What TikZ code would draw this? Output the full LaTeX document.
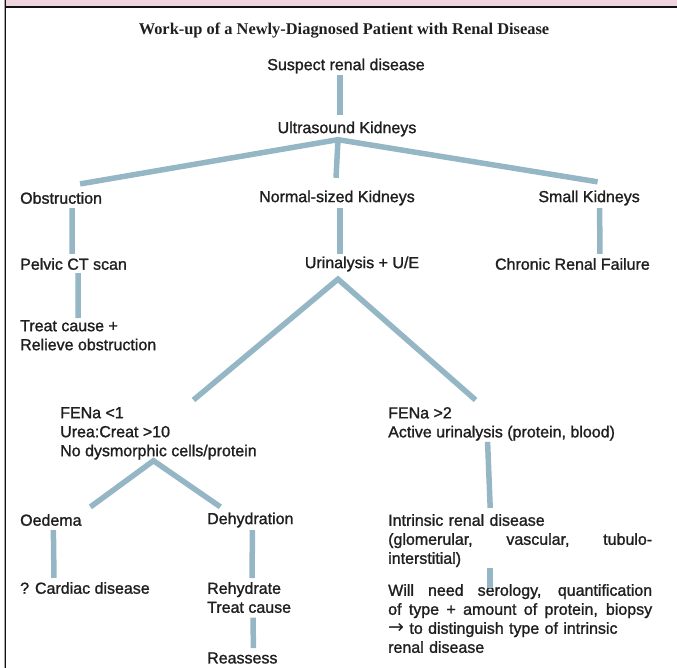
\documentclass[tikz,border=0pt]{standalone}
\usepackage{fontspec}
\setmainfont{Liberation Sans}[FakeBold=1.3]
\newfontfamily\rdserif{Liberation Serif}
\newfontfamily\rdsymbol{DejaVu Sans}
\usetikzlibrary{calc}
\definecolor{rdink}{HTML}{1F1F1F}
\definecolor{rdband}{HTML}{EFD3DE}
\definecolor{rdframe}{HTML}{111111}
\definecolor{rdedge}{HTML}{A8A8A8}
\definecolor{rdbranchcol}{HTML}{95B7C5}
\newcommand{\rdjust}[1]{\leavevmode\hbox to 264pt{\spaceskip=0.28em plus 1fil\xspaceskip=0.28em plus 1fil\relax #1}}
\tikzset{
  rdlabel/.style={
    inner sep=0pt,
    align=left,
    font=\fontsize{16}{19}\selectfont,
    text=rdink
  },
  rdpara/.style={
    rdlabel,
    text width=264pt
  },
  rdtitle/.style={
    inner sep=0pt,
    font=\rdserif\bfseries\fontsize{16.4}{19}\selectfont,
    text=rdink
  },
  rdbranch/.style={
    line width=5.5pt,
    color=rdbranchcol
  },
  rdframe/.style={
    line width=1.4pt,
    color=rdframe
  }
}

\begin{document}
\begin{tikzpicture}[x=1pt,y=-1pt]
  \useasboundingbox (0,0) rectangle (677,668);

  % page frame
  \fill[rdband] (5,0) rectangle (677,6.5);
  \draw[rdframe] (5,7) -- (677,7);
  \draw[line width=1pt, rdedge] (4.2,0) -- (4.2,668);
  \draw[rdframe] (5.7,0) -- (5.7,668);

  \node[rdtitle] (title) at (344,31) {Work-up of a Newly-Diagnosed Patient with Renal Disease};

  \node[rdlabel] (suspect) at (346,66) {Suspect renal disease};
  \node[rdlabel] (ultra) at (347,129) {Ultrasound Kidneys};

  \node[rdlabel, anchor=west] (obstr) at (20,198) {Obstruction};
  \node[rdlabel] (normal) at (337,198) {Normal-sized Kidneys};
  \node[rdlabel, anchor=east] (small) at (640,198) {Small Kidneys};

  \node[rdlabel, anchor=west] (pelvic) at (20,264) {Pelvic CT scan};
  \node[rdlabel] (urin) at (362,264) {Urinalysis + U/E};
  \node[rdlabel, anchor=east] (chronic) at (650,264) {Chronic Renal Failure};

  \node[rdlabel, anchor=north west] (treat) at (20,320) {Treat cause +\\Relieve obstruction};

  \node[rdlabel, anchor=north west] (fenalow) at (60,407) {FENa <1\\Urea:Creat >10\\No dysmorphic cells/protein};
  \node[rdlabel, anchor=north west] (fenahigh) at (388,407) {FENa >2\\Active urinalysis (protein, blood)};

  \node[rdlabel, anchor=west] (oedema) at (20,520) {Oedema};
  \node[rdlabel, anchor=west] (dehyd) at (207,520) {Dehydration};
  \node[rdpara, anchor=north west] (intrinsic) at (388,514) {Intrinsic renal disease\\
    \rdjust{(glomerular, vascular, tubulo-}\\
    interstitial)};

  \node[rdlabel, anchor=west] (cardiac) at (20,588) {? Cardiac disease};
  \node[rdlabel, anchor=north west] (rehyd) at (207,582) {Rehydrate\\Treat cause};
  \node[rdlabel, anchor=west] (reassess) at (207,658) {Reassess};
  \node[rdpara, anchor=north west] (serology) at (388,584) {%
    \rdjust{Will need serology, quantification}\\
    \rdjust{of type + amount of protein, biopsy}\\
    {\rdsymbol\fontsize{19}{19}\selectfont →} to distinguish type of intrinsic\\
    renal disease};

  % branches
  \draw[rdbranch] ([xshift=-6pt,yshift=-1pt]suspect.south) -- ([xshift=-7pt,yshift=6pt]ultra.north);
  \coordinate (ultrafork) at ([xshift=-9pt,yshift=-3pt]ultra.south);
  \draw[rdbranch] ([xshift=19pt,yshift=8pt]obstr.north) -- (ultrafork) -- ([xshift=8.5pt,yshift=8.5pt]small.north);
  \draw[rdbranch] (ultrafork) -- ([xshift=-1pt,yshift=12.5pt]normal.north);

  \draw[rdbranch] ([xshift=11pt,yshift=-4pt]obstr.south) -- ([xshift=-1.5pt,yshift=4pt]pelvic.north);
  \draw[rdbranch] ([xshift=4.5pt,yshift=-3pt]pelvic.south) -- ([xshift=-10pt,yshift=2pt]treat.north);
  \draw[rdbranch] ([xshift=3pt,yshift=-2.5pt]normal.south) -- ([xshift=-22pt,yshift=2.5pt]urin.north);
  \draw[rdbranch] ([xshift=10.5pt,yshift=-2.5pt]small.south) -- ([xshift=27.5pt,yshift=4pt]chronic.north);

  \coordinate (urinfork) at ([xshift=-24pt,yshift=-7.5pt]urin.south);
  \draw[rdbranch] ([xshift=35pt,yshift=7pt]fenalow.north) -- (urinfork) -- ([xshift=-26pt,yshift=7pt]fenahigh.north);

  \coordinate (fenafork) at ([xshift=-5pt,yshift=-1pt]fenalow.south);
  \draw[rdbranch] ([xshift=39.5pt,yshift=7pt]oedema.north) -- (fenafork) -- ([xshift=-30pt,yshift=5.5pt]dehyd.north);
  \draw[rdbranch] ([xshift=-14pt,yshift=-1pt]fenahigh.south) -- ([xshift=-30pt,yshift=6pt]intrinsic.north);

  \draw[rdbranch] ([xshift=2.5pt,yshift=-4pt]oedema.south) -- ([xshift=-31pt,yshift=4pt]cardiac.north);
  \draw[rdbranch] ([xshift=2pt,yshift=-2.5pt]dehyd.south) -- ([xshift=3pt,yshift=4pt]rehyd.north);
  \draw[rdbranch] ([xshift=4pt,yshift=-4.5pt]rehyd.south) -- ([xshift=11pt,yshift=4pt]reassess.north);
  \draw[rdbranch] ([xshift=-30pt,yshift=-1pt]intrinsic.south) -- ([xshift=-30pt,yshift=-4pt]serology.north);
\end{tikzpicture}
\end{document}
